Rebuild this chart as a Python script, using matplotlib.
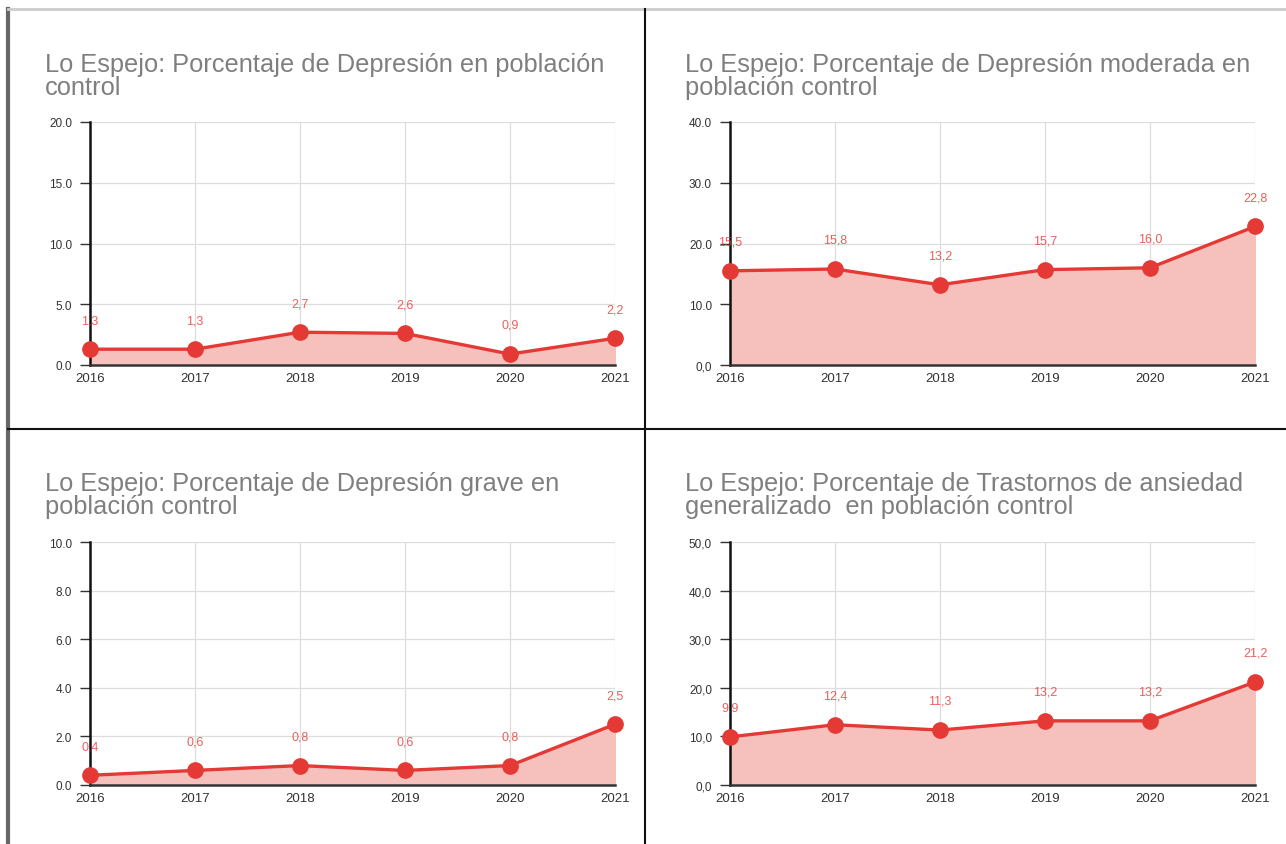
import matplotlib
matplotlib.use("Agg")
import matplotlib.pyplot as plt
from matplotlib.lines import Line2D

# data
years = [2016, 2017, 2018, 2019, 2020, 2021]

titles = [
    "Lo Espejo: Porcentaje de Depresión en población\ncontrol",
    "Lo Espejo: Porcentaje de Depresión moderada en\npoblación control",
    "Lo Espejo: Porcentaje de Depresión grave en\npoblación control",
    "Lo Espejo: Porcentaje de Trastornos de ansiedad\ngeneralizado  en población control",
]
depresion = [1.3, 1.3, 2.7, 2.6, 0.9, 2.2]
moderada = [15.5, 15.8, 13.2, 15.7, 16.0, 22.8]
grave = [0.4, 0.6, 0.8, 0.6, 0.8, 2.5]
ansiedad = [9.9, 12.4, 11.3, 13.2, 13.2, 21.2]
series = [depresion, moderada, grave, ansiedad]

yticks = [
    [0, 5, 10, 15, 20],
    [0, 10, 20, 30, 40],
    [0, 2, 4, 6, 8, 10],
    [0, 10, 20, 30, 40, 50],
]
ytick_labels = [
    ["0.0", "5.0", "10.0", "15.0", "20.0"],
    ["0,0", "10.0", "20.0", "30.0", "40.0"],
    ["0.0", "2.0", "4.0", "6.0", "8.0", "10.0"],
    ["0,0", "10,0", "20,0", "30,0", "40,0", "50,0"],
]

RED = "#e53935"
FILL = "#f6c0bc"
W, H = 1286, 845

plt.rcParams['font.family'] = ['Liberation Sans', 'DejaVu Sans']
fig = plt.figure(figsize=(W / 100, H / 100), dpi=100)
fig.patch.set_facecolor("white")

def px_axes(x0, y_top, x1, y_bot):
    return fig.add_axes([x0 / W, 1 - y_bot / H, (x1 - x0) / W, (y_bot - y_top) / H])

# panel positions in pixels: plot area (left, top, right, bottom), title origin
panels = [
    (90, 123, 615, 366, 45, 53),
    (730, 123, 1255, 366, 685, 53),
    (90, 543, 615, 786, 45, 472),
    (730, 543, 1255, 786, 685, 472),
]

for i, (x0, yt, x1, yb, tx, ty) in enumerate(panels):
    ax = px_axes(x0, yt, x1, yb)
    vals = series[i]
    ax.fill_between(years, vals, 0, color=FILL, zorder=1)
    ax.plot(years, vals, color=RED, lw=2.4, marker="o", ms=11, zorder=3, clip_on=False)
    for x, v in zip(years, vals):
        ax.annotate(f"{v:.1f}".replace(".", ","), (x, v), xytext=(0, 21),
                    textcoords="offset points", ha="center", va="center",
                    color=RED, fontsize=9, alpha=0.8)
    ax.set_xlim(years[0], years[-1])
    ax.set_ylim(yticks[i][0], yticks[i][-1])
    ax.set_xticks(years)
    ax.set_xticklabels([str(y) for y in years], fontsize=9.5, color="#333333")
    ax.set_yticks(yticks[i])
    ax.set_yticklabels(ytick_labels[i], fontsize=8.5, color="#333333")
    ax.grid(True, color="#dddddd", lw=0.9, zorder=0)
    ax.set_axisbelow(True)
    for s in ["top", "right"]:
        ax.spines[s].set_visible(False)
    ax.spines["left"].set_color("#111111")
    ax.spines["left"].set_linewidth(1.8)
    ax.spines["bottom"].set_color("#333333")
    ax.spines["bottom"].set_linewidth(1.8)
    ax.tick_params(axis="y", length=7, width=1, color="#333333", pad=6)
    ax.tick_params(axis="x", length=0, pad=5)
    fig.text(tx / W, 1 - ty / H, titles[i], ha="left", va="top",
             fontsize=18.3, color="#7f7f7f", linespacing=0.95)

# panel frame lines
fig.add_artist(Line2D([8 / W, 8 / W], [0, 1 - 10 / H], color="#666666", lw=3))
fig.add_artist(Line2D([8 / W, 1], [1 - 10 / H, 1 - 10 / H], color="#cccccc", lw=2))
fig.add_artist(Line2D([645 / W, 645 / W], [0, 1 - 10 / H], color="#111111", lw=1.5))
fig.add_artist(Line2D([8 / W, 1], [1 - 430 / H, 1 - 430 / H], color="#111111", lw=1.5))

fig.savefig("out.png", dpi=100)
